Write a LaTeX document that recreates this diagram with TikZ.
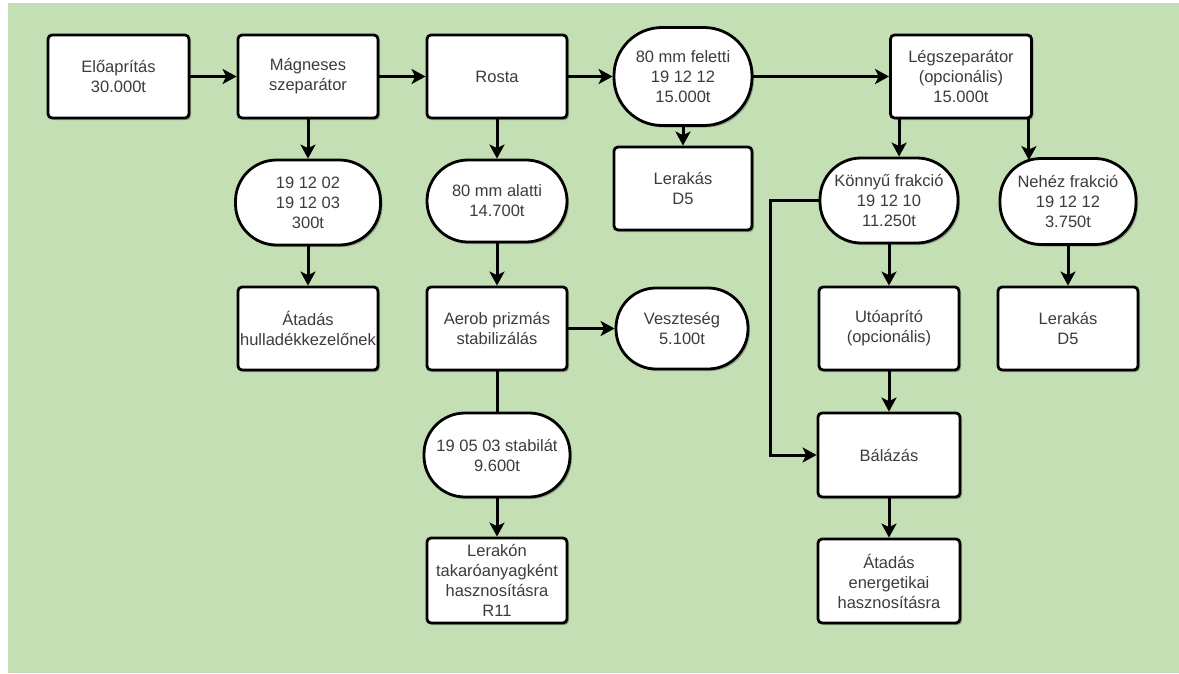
\documentclass[tikz,border=0pt]{standalone}
\usepackage{fontspec}
\setmainfont{Liberation Sans}
\usetikzlibrary{arrows.meta,shadows}
\definecolor{bggreen}{RGB}{197,223,180}
\definecolor{txt}{RGB}{60,60,60}
\tikzset{
  base/.style={draw=black, line width=2.8pt, fill=white, inner sep=0pt, align=center,
    text=txt, font=\fontsize{16.5}{20}\selectfont,
    drop shadow={shadow xshift=2pt, shadow yshift=-2pt, opacity=0.25, fill=black}},
  box/.style={base, rectangle, rounded corners=4pt, minimum width=140pt, minimum height=83pt},
  term/.style={base, rectangle, rounded corners=41pt, minimum width=142pt, minimum height=84pt},
  arr/.style={line width=3pt, draw=black, -{Stealth[length=14pt,width=15pt,inset=3.5pt]}},
  ln/.style={line width=3pt, draw=black},
}
\begin{document}
\begin{tikzpicture}[x=1pt,y=-1pt]
\useasboundingbox (0,0) rectangle (1179,673);
\fill[white] (0,0) rectangle (1179,673);
\fill[bggreen] (8,3) rectangle (1179,673);

% row 1
\node[box, minimum width=141pt] (pre) at (118.5,76.5) {Előaprítás\\30.000t};
\node[box] (mag) at (308,76.5) {Mágneses\\szeparátor};
\node[box] (rosta) at (497,76.5) {Rosta};
\node[term, minimum width=138pt, minimum height=98pt, rounded corners=48pt] (fel) at (683,76.5) {80 mm feletti\\19 12 12\\15.000t};
\node[box, minimum width=141pt] (legsz) at (961,76.5) {Légszeparátor\\(opcionális)\\15.000t};

% row 2
\node[term, minimum width=145pt, minimum height=85pt] (mg) at (308,202.5) {19 12 02\\19 12 03\\300t};
\node[term, minimum width=140pt, minimum height=82pt] (alatt) at (497,201) {80 mm alatti\\14.700t};
\node[box, minimum width=138pt] (ler1) at (683,188.5) {Lerakás\\D5};
\node[term, minimum width=138pt, minimum height=85pt] (konnyu) at (889,200.5) {Könnyű frakció\\19 12 10\\11.250t};
\node[term, minimum width=136pt, minimum height=86pt] (nehez) at (1068,201.5) {Nehéz frakció\\19 12 12\\3.750t};

% row 3
\node[box] (atad1) at (308,328.5) {Átadás\\hulladékkezelőnek};
\node[box] (aerob) at (497,328.5) {Aerob prizmás\\stabilizálás};
\node[term, minimum width=132pt, minimum height=81pt, rounded corners=40pt] (veszt) at (682,328.5) {Veszteség\\5.100t};
\node[box] (uto) at (889,328.5) {Utóaprító\\(opcionális)};
\node[box] (ler2) at (1068,328.5) {Lerakás\\D5};

% row 4
\node[term, minimum width=146pt, minimum height=84pt] (stab) at (497,455) {19 05 03 stabilát\\9.600t};
\node[box, minimum width=142pt, minimum height=84pt] (bal) at (889,455) {Bálázás};

% row 5
\node[box, minimum height=85pt] (lerakon) at (497,580.5) {Lerakón\\takaróanyagként\\hasznosításra\\R11};
\node[box, minimum width=142pt, minimum height=84pt] (atad2) at (889,581) {Átadás\\energetikai\\hasznosításra};

% connectors
\draw[arr] (pre) -- (mag);
\draw[arr] (mag) -- (rosta);
\draw[arr] (rosta) -- (fel);
\draw[arr] (fel) -- (legsz);
\draw[arr] (mag) -- (mg);
\draw[arr] (mg) -- (atad1);
\draw[arr] (rosta) -- (alatt);
\draw[arr] (alatt) -- (aerob);
\draw[arr] (aerob) -- (veszt);
\draw[ln] (aerob) -- (stab);
\draw[arr] (stab) -- (lerakon);
\draw[arr] (fel) -- (ler1);
\draw[arr] ([xshift=10pt]legsz.south west) -- ([xshift=10pt]legsz.south west |- konnyu.north);
\draw[arr] ([xshift=-4pt]legsz.south east) -- ([xshift=-4pt,yshift=-3pt]legsz.south east |- nehez.north);
\draw[arr] (konnyu) -- (uto);
\coordinate (kb) at (770,202);
\draw[arr] (konnyu.west) -- (konnyu.west -| kb) |- (bal.west);
\draw[arr] (uto) -- (bal);
\draw[arr] (bal) -- (atad2);
\draw[arr] (nehez) -- (ler2);
\end{tikzpicture}
\end{document}
